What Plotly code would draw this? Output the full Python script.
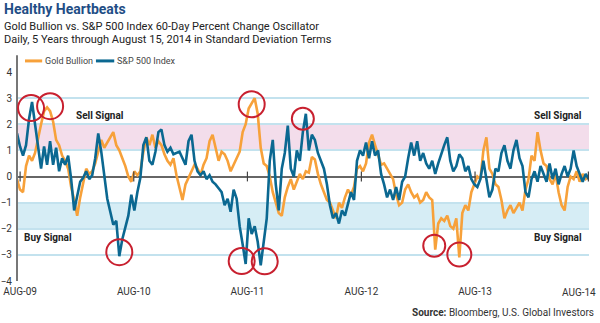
import pandas as pd
import plotly.graph_objects as go

# 60-day percent change oscillator, in standard deviations (sampled every ~10 days)
GOLD = [
    -0.1, -0.5, -0.6, 0.4, 0.8, 0.6, 0.9, 1.5, 2.0, 2.5,
    2.65, 2.5, 2.1, 1.4, 1.2, 0.8, 0.6, 0.3, -0.4, -0.9,
    -1.5, -0.8, -0.3, 0.3, 0.1, 0.2, 0.5, 1.0, 1.4, 1.1,
    1.3, 1.5, 1.7, 1.2, 1.0, 0.7, 0.4, 0.0, -0.2, 0.2,
    0.05, 0.2, 0.95, 1.5, 1.2, 1.6, 1.1, 1.35, 1.2, 0.85,
    0.6, 0.45, 0.7, 0.05, -0.45, -0.9, -0.3, -0.05, 0.2, 0.45,
    0.3, 0.05, 0.45, 0.7, 1.35, 1.6, 1.1, 0.6, 0.95, 0.85,
    0.6, 0.2, 0.45, 0.7, 0.95, 1.7, 2.0, 2.6, 2.8, 3.0,
    2.4, 1.1, 0.5, 0.4, 0.0, -0.6, -1.0, -1.4, -1.5, -0.8,
    -0.4, -0.1, -0.5, -0.2, 0.1, -0.1, 0.2, 0.15, 0.75, 0.65,
    0.1, -0.3, -0.6, -0.9, -1.0, -1.3, -1.6, -1.0, -1.2, -0.8,
    -0.5, -0.7, -0.4, 0.3, 0.4, 0.2, 0.5, 1.3, 1.6, 1.2,
    0.8, 0.45, 0.5, 0.3, 0.05, -0.1, -0.7, -1.1, -1.0, -0.5,
    -0.3, -0.6, -0.8, -0.7, -1.0, -0.9, -0.6, -0.8, -0.9, -2.8,
    -1.8, -1.6, -1.7, -1.5, -1.9, -2.0, -1.6, -3.1, -1.4, -1.1,
    -1.3, -0.6, -0.3, 0.0, -0.1, 1.0, 1.5, 0.3, 0.1, -0.3,
    -0.4, -0.9, -1.6, -1.3, -1.1, -1.4, -1.2, -1.0, -1.3, -0.5,
    -0.1, 0.8, 0.6, 1.7, 1.0, 0.5, 0.4, -0.1, -0.3, 0.1,
    -0.6, -1.1, -1.3, -0.4, 0.0, -0.1, 0.2, -0.2, 0.1, -0.1,
    0.0,
]

SPX = [
    1.65, 1.15, 0.8, 1.2, 2.2, 2.85, 2.0, 1.1, 0.3, 1.15,
    0.45, 1.35, 0.45, 1.1, 0.2, 0.7, 0.45, 0.8, -0.1, -1.3,
    -0.7, -0.2, -0.05, 0.2, -0.1, 0.05, 0.7, 1.65, 0.95, -0.05,
    -0.85, -1.35, -1.85, -1.7, -3.05, -2.4, -2.0, -1.5, -0.7, -1.3,
    -0.6, -0.05, 1.2, 1.5, 0.6, 0.45, 0.95, 1.7, 1.8, 1.2,
    0.95, 1.1, 0.85, 0.9, 0.95, 0.7, 0.45, 1.35, 1.6, 0.6,
    0.2, 0.05, 0.2, -0.1, 0.05, -0.2, -0.3, -0.45, -0.6, -1.1,
    -0.85, -1.35, -0.5, -0.85, -1.9, -2.6, -3.35, -1.6, -2.2, -1.9,
    -2.5, -3.4, -2.6, -1.6, 0.6, 1.4, -0.3, -1.3, 0.3, 0.9,
    1.95, 0.3, 0.0, 1.0, 0.6, 1.7, 2.4, 1.0, 1.6, 1.4,
    0.9, 0.6, 0.3, -0.3, -1.1, -1.6, -1.4, -1.8, -1.3, -1.5,
    -1.0, -0.6, -0.9, 0.6, 1.0, 0.8, 1.3, 0.7, 1.35, 0.8,
    1.0, 0.1, -0.3, -0.8, -0.5, -0.9, -0.4, -0.9, -0.2, 0.0,
    0.7, 1.3, 0.8, 1.35, 0.6, 0.9, 0.5, 0.3, 0.6, 0.1,
    0.5, 0.9, 1.2, 1.5, 0.6, 0.2, 0.4, 0.85, 0.7, 0.2,
    0.4, -0.1, -0.3, -0.4, -0.1, 0.6, -0.2, -0.8, -0.5, 0.3,
    0.2, 0.9, 1.2, 0.6, 0.3, 1.0, 1.4, 0.7, 0.4, -0.6,
    -0.8, -0.1, 0.2, -0.2, 0.4, 0.1, -0.2, 0.5, -0.1, 0.3,
    -0.3, 0.1, 0.4, 0.0, 0.3, 1.0, 0.4, 0.1, -0.2, 0.1,
    -0.1,
]

DATES = pd.date_range("2009-08-05", "2014-08-15", periods=len(GOLD))

TICK_DATES = ["2009-08-15", "2010-08-15", "2011-08-15", "2012-08-15", "2013-08-15", "2014-08-14"]
TICK_TEXT = ["AUG-09", "AUG-10", "AUG-11", "AUG-12", "AUG-13", "AUG-14"]
Y_TICKS = [4, 3, 2, 1, 0, -1, -2, -3, -4]

# extremes circled in red: (series, sample index, dx px, dy px, radius px)
HIGHLIGHTS = [
    ("spx", 5, -1, -6, 13),
    ("gold", 11, 0, 5, 13),
    ("spx", 34, 0, 4, 13),
    ("gold", 78, 0, -1, 13),
    ("spx", 96, -3, -5, 11),
    ("spx", 76, -4, 3, 13),
    ("spx", 81, 4, 4, 13),
    ("gold", 139, -1, 4, 11),
    ("gold", 147, 0, 3, 12),
]

GOLD_C = "#F7A13A"
SPX_C = "#0B6891"
RED = "#C8202F"
FONT = "Roboto, Liberation Sans, sans-serif"

fig = go.Figure()
fig.add_trace(go.Scatter(x=DATES, y=GOLD, mode="lines", name="Gold Bullion",
                         line=dict(color=GOLD_C, width=2.6), hoverinfo="skip"))
fig.add_trace(go.Scatter(x=DATES, y=SPX, mode="lines", name="S&P 500 Index",
                         line=dict(color=SPX_C, width=2.6), hoverinfo="skip"))
# small tick marks sitting on the zero line
fig.add_trace(go.Scatter(x=TICK_DATES, y=[0] * len(TICK_DATES), mode="markers",
                         marker=dict(symbol="line-ns-open", size=7, color="#444",
                                     line=dict(color="#444", width=1.2)),
                         hoverinfo="skip", showlegend=False, cliponaxis=False))

shapes = [
    dict(type="rect", xref="paper", yref="y", x0=0, x1=1, y0=1, y1=2,
         fillcolor="#F3DDEB", line_width=0, layer="below"),
    dict(type="rect", xref="paper", yref="y", x0=0, x1=1, y0=-2, y1=-1,
         fillcolor="#D6EDF5", line_width=0, layer="below"),
    dict(type="line", xref="paper", yref="paper", x0=0, x1=0, y0=0, y1=1.08,
         line=dict(color="#777", width=2)),
]
series = {"gold": GOLD, "spx": SPX}
for name, i, dx, dy, r in HIGHLIGHTS:
    shapes.append(dict(type="circle", xref="x", yref="y",
                       xsizemode="pixel", ysizemode="pixel",
                       xanchor=DATES[i], yanchor=series[name][i],
                       x0=dx - r, x1=dx + r, y0=dy - r, y1=dy + r,
                       line=dict(color=RED, width=2), layer="above"))

# legend drawn by hand: short swatches with labels
for x0, x1, c in [(0.014, 0.044, GOLD_C), (0.138, 0.170, SPX_C)]:
    shapes.append(dict(type="line", xref="paper", yref="paper", x0=x0, x1=x1,
                       y0=1.053, y1=1.053, line=dict(color=c, width=3)))

annotations = [
    dict(text="<b>Healthy Heartbeats</b>", xref="paper", yref="paper", x=-0.026, y=1.3,
         xanchor="left", yanchor="middle", showarrow=False,
         font=dict(family=FONT, size=14, color="#1F4E86")),
    dict(text="Gold Bullion vs. S&P 500 Index 60-Day Percent Change Oscillator",
         xref="paper", yref="paper", x=-0.026, y=1.219, xanchor="left", yanchor="middle",
         showarrow=False, font=dict(family=FONT, size=11, color="#222")),
    dict(text="Daily, 5 Years through August 15, 2014 in Standard Deviation Terms",
         xref="paper", yref="paper", x=-0.026, y=1.156, xanchor="left", yanchor="middle",
         showarrow=False, font=dict(family=FONT, size=11, color="#222")),
    dict(text="Gold Bullion", xref="paper", yref="paper", x=0.045, y=1.053,
         xanchor="left", yanchor="middle", showarrow=False,
         font=dict(family=FONT, size=9, color="#444")),
    dict(text="S&P 500 Index", xref="paper", yref="paper", x=0.172, y=1.053,
         xanchor="left", yanchor="middle", showarrow=False,
         font=dict(family=FONT, size=9, color="#444")),
    dict(text="<b>Sell Signal</b>", xref="paper", yref="y", x=0.099, y=2.33,
         xanchor="left", yanchor="middle", showarrow=False,
         font=dict(family=FONT, size=10, color="#222")),
    dict(text="<b>Sell Signal</b>", xref="paper", yref="y", x=0.992, y=2.33,
         xanchor="right", yanchor="middle", showarrow=False,
         font=dict(family=FONT, size=10, color="#222")),
    dict(text="<b>Buy Signal</b>", xref="paper", yref="y", x=0.008, y=-2.32,
         xanchor="left", yanchor="middle", showarrow=False,
         font=dict(family=FONT, size=10, color="#222")),
    dict(text="<b>Buy Signal</b>", xref="paper", yref="y", x=0.992, y=-2.32,
         xanchor="right", yanchor="middle", showarrow=False,
         font=dict(family=FONT, size=10, color="#222")),
    # the last date label sits flush with the right edge of the figure
    dict(text=TICK_TEXT[-1], xref="x", yref="paper", x=TICK_DATES[-1], y=-0.057,
         xanchor="right", yanchor="middle", xshift=10, showarrow=False,
         font=dict(family=FONT, size=10, color="#333")),
    dict(text="<b>Source:</b> Bloomberg, U.S. Global Investors", xref="paper", yref="paper",
         x=1.012, y=-0.153, xanchor="right", yanchor="middle", showarrow=False,
         font=dict(family=FONT, size=10, color="#333")),
]

fig.update_layout(
    width=600, height=323,
    margin=dict(l=17, r=11, t=72, b=42, autoexpand=False),
    paper_bgcolor="white", plot_bgcolor="white",
    showlegend=False,
    shapes=shapes, annotations=annotations,
    font=dict(family=FONT, color="#333"),
    xaxis=dict(range=["2009-08-05", "2014-08-16"], tickvals=TICK_DATES[:-1], ticktext=TICK_TEXT[:-1],
               showgrid=False, zeroline=False, showline=False, ticks="", automargin=False,
               ticklabelstandoff=3,
               tickfont=dict(family=FONT, size=10, color="#333")),
    yaxis=dict(range=[-4, 4], tickvals=Y_TICKS, showgrid=True, gridcolor="#C3E2EE", gridwidth=1.5,
               zeroline=True, zerolinecolor="#666", zerolinewidth=2, showline=False,
               ticks="", ticklabelstandoff=4, automargin=False,
               tickfont=dict(family=FONT, size=10, color="#333")),
)

fig.write_html("out.html")
